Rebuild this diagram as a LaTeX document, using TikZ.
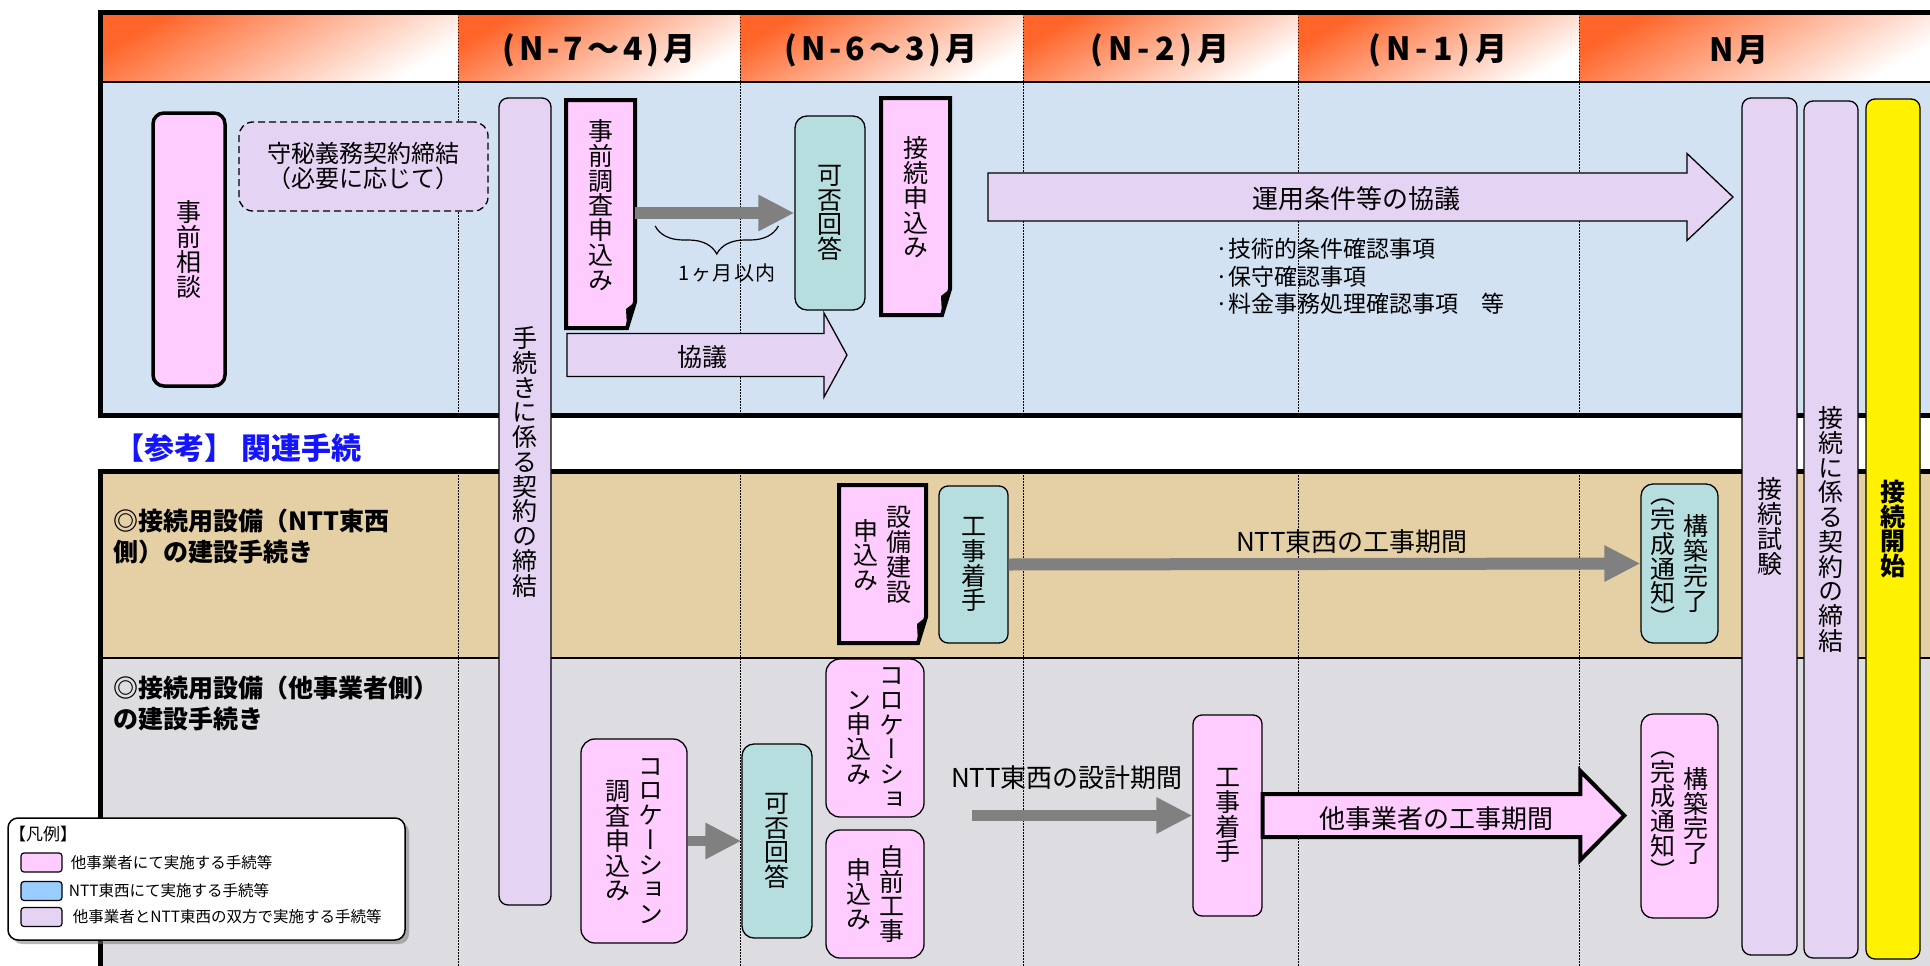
\documentclass[tikz,border=0pt]{standalone}
\usepackage{fontspec}
\setmainfont{Noto Sans CJK JP}
\newfontfamily\vjp{Noto Sans CJK JP}[RawFeature=+vert]
\usetikzlibrary{positioning,calc,arrows.meta,decorations.pathreplacing,shadows}
\definecolor{pinkc}{RGB}{255,204,255}
\definecolor{tealc}{RGB}{183,222,223}
\definecolor{lavc}{RGB}{228,211,242}
\definecolor{hdrc}{RGB}{255,100,40}
\definecolor{skyc}{RGB}{210,226,243}
\definecolor{sandc}{RGB}{228,208,164}
\definecolor{marblec}{RGB}{221,221,225}
\definecolor{refblue}{RGB}{20,20,255}
\definecolor{grayarr}{RGB}{128,128,128}
\definecolor{legblue}{RGB}{153,204,255}
% vertical text: one character per line
\def\vtend{\vtend}
\def\vtrow#1{\ifx#1\vtend\else\hbox to 1em{\hss#1\hss}\expandafter\vtrow\fi}
\newcommand\vtxt[1]{$\vcenter{\baselineskip=0.99em\lineskiplimit=-2em\vtrow#1\vtend}$}
\def\spcrow#1{\ifx#1\vtend\else#1\kern\spckern\expandafter\spcrow\fi}
\newcommand\spaced[2][5pt]{\def\spckern{#1}\spcrow#2\vtend\unkern}
\newcommand\docbox[6]{%
  \draw[docline,fill=pinkc] (#2,#3) -- (#4,#3) -- (#4,#5-26) -- (#4-8,#5) -- (#2,#5) -- cycle;
  \fill (#4-9,#5-19) -- (#4,#5-26) -- (#4-8,#5) -- cycle;
  \node[doctext,minimum width=#4pt-#2pt,minimum height=#5pt-#3pt] (#1) at ({(#2+#4)/2},{(#3+#5)/2-9}) {#6};}
\newcommand\blockarrow[6][]{%
  \draw[#1] ($(#2)+(0,#4)$) -- ($(#3)+(-#6,#4)$) -- ($(#3)+(-#6,#5)$) -- (#3)
    -- ($(#3)+(-#6,-#5)$) -- ($(#3)+(-#6,-#4)$) -- ($(#2)+(0,-#4)$) -- cycle;}

\begin{document}
\begin{tikzpicture}[x=1pt,y=-1pt,
  vfont/.style={font=\vjp\fontsize{25}{25}\selectfont},
  procbox/.style={draw,line width=1.3pt,rounded corners=9pt,inner sep=0pt,vfont},
  pinkbox/.style={procbox,fill=pinkc},
  tealbox/.style={procbox,fill=tealc},
  lavbox/.style={procbox,fill=lavc},
  doctext/.style={inner sep=0pt,vfont},
  docline/.style={line width=4pt,line join=miter},
  garrow/.style={draw=grayarr,line width=12pt,-{Triangle[length=36pt,width=34pt]}},
  barrow/.style={draw,line width=1.3pt,fill=lavc,line join=miter},
  hlabel/.style={inner sep=0pt,font=\rmfamily\fontsize{26}{30}\selectfont},
  sect/.style={anchor=north west,align=left,inner sep=0pt,font=\bfseries\fontsize{25}{31}\selectfont},
  hdr/.style={inner sep=0pt,font=\bfseries\fontsize{32}{36}\selectfont},
  colline/.style={line width=0.8pt,dash pattern=on 1.5pt off 1.5pt},
  swatch/.style={draw,line width=1.2pt,rounded corners=3pt,minimum width=41pt,minimum height=19pt,inner sep=0pt},
  legtext/.style={inner sep=0pt,font=\fontsize{15.5}{18}\selectfont}
]
\useasboundingbox (0,0) rectangle (1930,966);
\fill[white] (0,0) rectangle (1930,966);
% sections
\fill[skyc] (100,82) rectangle (1930,414);
\fill[sandc] (100,472) rectangle (1930,658);
\fill[marblec] (100,658) rectangle (1930,966);
\foreach \xa/\xb in {100/458,458/740,740/1023,1023/1298,1298/1579,1579/1930}
  \shade[top color=hdrc,bottom color=white,shading angle=30] (\xa,14) rectangle (\xb,82);
\foreach \gx in {458,740,1023,1298,1579}{
  \draw[colline] (\gx,14) -- (\gx,414);
  \draw[colline] (\gx,472) -- (\gx,966);}
\draw[line width=5pt] (98,12.5) -- (1930,12.5);
\draw[line width=2pt] (98,82) -- (1930,82);
\draw[line width=5pt] (98,415) -- (1930,415);
\draw[line width=5pt] (98,471.5) -- (1930,471.5);
\draw[line width=2pt] (98,658) -- (1930,658);
\draw[line width=5pt] (100.5,10) -- (100.5,417.5);
\draw[line width=5pt] (100.5,469) -- (100.5,966);
% header
\node[hdr] (hm74) at (599,50) {\spaced[4pt]{(N-7～4)月}};
\node[hdr] (hm63) at (881,50) {\spaced[4pt]{(N-6～3)月}};
\node[hdr] (hm2) at (1160,50) {\spaced{(N-2)月}};
\node[hdr] (hm1) at (1438,50) {\spaced{(N-1)月}};
\node[hdr] (hmn) at (1739,50) {\spaced[2pt]{N月}};
% top section
\node[pinkbox,line width=3.5pt,rounded corners=11pt,minimum width=72pt,minimum height=273pt] (soudan) at (189,249.5) {\vtxt{事前相談}};
\node[lavbox,dashed,dash pattern=on 7pt off 4pt,rounded corners=14pt,minimum width=249pt,minimum height=89pt,
  align=center,font=\rmfamily\fontsize{24}{25}\selectfont] (himitsu) at (363.5,166.5) {守秘義務契約締結\\（必要に応じて）};
\node[lavbox,minimum width=52pt,minimum height=807pt] (keiyaku1) at (525,501.5) {};
\node[doctext] (keiyaku1lbl) at (525,462) {\vtxt{手続きに係る契約の締結}};
\docbox{chosa}{566}{100}{635}{328}{\vtxt{事前調査申込み}}
\node[tealbox,rounded corners=12pt,minimum width=70pt,minimum height=194pt] (kahi1) at (830,213) {\vtxt{可否回答}};
\docbox{moushi}{881}{98}{950}{315}{\vtxt{接続申込み}}
\draw[garrow] (chosa.east |- kahi1.west) -- (kahi1.west);
\draw[line width=1.2pt,decorate,decoration={brace,mirror,amplitude=28pt}]
  ($(chosa.east |- kahi1.west)+(20,13)$) -- ($(kahi1.west)+(-16,13)$);
\node[inner sep=0pt,font=\fontsize{20}{22}\selectfont] (ikkagetsu) at (727,273) {\spaced[1.5pt]{1ヶ月以内}};
\blockarrow[barrow]{567,355}{847,355}{21.5}{42}{23}
\node[hlabel,font=\rmfamily\fontsize{25}{28}\selectfont] (kyogi) at (702,357) {協議};
\blockarrow[barrow]{988,197}{1733,197}{24}{43.5}{46}
\node[hlabel] (unyo) at (1356,199) {運用条件等の協議};
\node[anchor=north west,align=left,inner sep=0pt,font=\fontsize{23}{27.5}\selectfont] (unyonote) at (1215,238)
  {·技術的条件確認事項\\·保守確認事項\\·料金事務処理確認事項　等};
% reference band
\node[anchor=west,inner sep=0pt,text=refblue,font=\bfseries\fontsize{30}{32}\selectfont] (sanko) at (114,448) {【参考】 関連手続};
% NTT side construction
\node[sect] (sect1) at (113,508.5) {◎接続用設備（NTT東西\\側）の建設手続き};
\docbox{setsubi}{839}{485}{926}{643}{\vtxt{申込み}\kern8pt\vtxt{設備建設}}
\node[tealbox,minimum width=69pt,minimum height=157pt] (koji1) at (973.5,564.5) {\vtxt{工事着手}};
\node[tealbox,minimum width=77pt,minimum height=159pt,rounded corners=12pt] (kansei1) at (1679.5,563.5) {\vtxt{（完成通知）}\kern8pt\vtxt{構築完了}};
\draw[garrow] (koji1.east) -- (kansei1.west);
\node[hlabel] (ntkoji) at (1352,542) {NTT東西の工事期間};
% other operator side construction
\node[sect] (sect2) at (113,675.5) {◎接続用設備（他事業者側）\\の建設手続き};
\node[pinkbox,rounded corners=14pt,minimum width=106pt,minimum height=204pt] (colochosa) at (634,841) {\vtxt{調査申込み}\kern8pt\vtxt{コロケーション}};
\node[tealbox,rounded corners=12pt,minimum width=70pt,minimum height=194pt] (kahi2) at (777,841) {\vtxt{可否回答}};
\draw[garrow,line width=10pt] (colochosa.east) -- (kahi2.west);
\node[pinkbox,rounded corners=14pt,minimum width=98pt,minimum height=158pt] (colomoushi) at (875,738) {\vtxt{ン申込み}\kern8pt\vtxt{コロケーショ}};
\node[pinkbox,rounded corners=14pt,minimum width=98pt,minimum height=128pt] (jimae) at (875,894) {\vtxt{申込み}\kern8pt\vtxt{自前工事}};
\node[pinkbox,minimum width=69pt,minimum height=201pt] (koji2) at (1227.5,815.5) {\vtxt{工事着手}};
\coordinate (sekkeistart) at (972,815.5);
\draw[garrow,line width=11pt] (sekkeistart) -- (koji2.west);
\node[hlabel] (ntsekkei) at (1067,778) {NTT東西の設計期間};
\node[pinkbox,rounded corners=12pt,minimum width=77pt,minimum height=204pt] (kansei2) at (1679.5,816) {\vtxt{（完成通知）}\kern8pt\vtxt{構築完了}};
\coordinate (tagyotip) at ($(koji2.east -| kansei2.west)+(-16,0)$);
\blockarrow[barrow,fill=pinkc,line width=4pt]{koji2.east}{tagyotip}{21.5}{44.5}{44}
\node[hlabel] (tagyo) at (1436,819) {他事業者の工事期間};
% final steps, across all sections
\node[lavbox,minimum width=55pt,minimum height=857pt] (shiken) at (1769.5,526.5) {\vtxt{接続試験}};
\node[lavbox,minimum width=54pt,minimum height=857pt] (keiyaku2) at (1831,529.5) {\vtxt{接続に係る契約の締結}};
\node[procbox,fill=yellow,minimum width=54pt,minimum height=860pt,font=\vjp\bfseries\fontsize{25}{25}\selectfont] (kaishi) at (1893,529) {\vtxt{接続開始}};
% legend
\node[draw,line width=1.5pt,fill=white,rounded corners=10pt,minimum width=397pt,minimum height=122pt,
  drop shadow={shadow xshift=4pt,shadow yshift=-4pt,fill=black!55}] (legend) at (206.5,879) {};
\node[anchor=west,inner sep=0pt,font=\fontsize{17}{20}\selectfont] (legtitle) at (9,834) {【凡例】};
\node[swatch,fill=pinkc] (swpink) at (41.5,862.5) {};
\node[legtext,right=8pt of swpink] (lgpink) {他事業者にて実施する手続等};
\node[swatch,fill=legblue] (swblue) at (41.5,891) {};
\node[legtext,right=6pt of swblue] (lgblue) {NTT東西にて実施する手続等};
\node[swatch,fill=lavc] (swlav) at (41.5,917) {};
\node[legtext,right=10pt of swlav] (lglav) {他事業者とNTT東西の双方で実施する手続等};
\end{tikzpicture}
\end{document}
